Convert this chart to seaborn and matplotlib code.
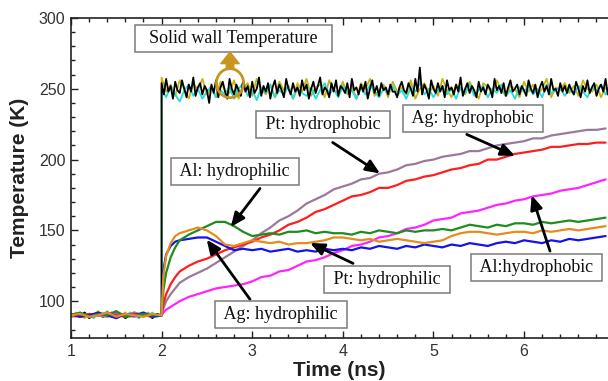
import numpy as np
import pandas as pd
import matplotlib
matplotlib.use("Agg")
import matplotlib.pyplot as plt
from matplotlib.patches import Ellipse
import seaborn as sns

# ---------------- data ----------------
# solid wall temperature traces (pre-heating part, t = 1.0 .. 2.0 step 0.05)
wall_time_pre = [1.00, 1.05, 1.10, 1.15, 1.20, 1.25, 1.30, 1.35, 1.40, 1.45,
                 1.50, 1.55, 1.60, 1.65, 1.70, 1.75, 1.80, 1.85, 1.90, 1.95, 2.00]
# heated part: black sampled every 0.025 ns, cyan / olive every 0.05 ns
black_time_post = [round(2.0 + 0.025 * i, 3) for i in range(200)]
wall_time_post = [round(2.0 + 0.05 * i, 2) for i in range(100)]

black_pre = [90, 91, 89, 92, 88, 90, 91, 89, 90, 92, 89, 91, 88, 90, 92, 89, 91, 90, 88, 91, 90]
cyan_pre = [91, 89, 90, 92, 90, 88, 91, 90, 93, 89, 90, 91, 89, 92, 90, 88, 91, 90, 92, 89, 90]
olive_pre = [89, 92, 90, 88, 91, 90, 93, 89, 90, 91, 88, 90, 92, 89, 91, 90, 89, 92, 90, 91, 90]

black_post = [254, 246, 257, 248, 252, 243, 255, 249, 247, 256, 250, 244, 253, 248, 258, 245, 251, 254, 246, 252,
              249, 240, 253, 247, 256, 244, 251, 255, 248, 243, 257, 250, 246, 253, 249, 245, 256, 248, 252, 244,
              255, 247, 250, 258, 245, 252, 248, 254, 243, 251, 256, 247, 253, 249, 244, 257, 250, 246, 254, 248,
              251, 245, 256, 249, 253, 243, 250, 255, 247, 252, 258, 246, 251, 249, 244, 254, 248, 256, 245, 252,
              250, 247, 254, 244, 257, 249, 251, 246, 253, 248, 255, 243, 250, 256, 247, 252, 245, 254, 249, 251,
              246, 253, 248, 248, 244, 251, 255, 249, 247, 254, 250, 245, 257, 248, 265, 246, 253, 249, 243, 256,
              250, 247, 254, 248, 252, 244, 256, 249, 251, 246, 253, 248, 258, 245, 250, 254, 247, 252, 249, 244,
              255, 248, 251, 246, 253, 250, 244, 257, 249, 252, 247, 254, 245, 251, 256, 248, 250, 253, 246, 252,
              249, 245, 256, 250, 247, 253, 244, 251, 255, 248, 252, 246, 257, 249, 250, 245, 254, 248, 252, 247,
              253, 249, 246, 255, 250, 244, 252, 248, 256, 247, 251, 254, 245, 250, 253, 248, 257, 246, 251, 249]
cyan_post = [250, 244, 252, 246, 241, 249, 253, 245, 250, 243,
             248, 252, 244, 249, 246, 251, 243, 250, 254, 245,
             249, 242, 251, 247, 253, 244, 249, 246, 252, 243,
             250, 247, 245, 251, 243, 249, 254, 246, 250, 244,
             252, 247, 249, 243, 251, 246, 253, 248, 244, 250,
             247, 252, 245, 249, 243, 251, 248, 254, 246, 250,
             244, 249, 252, 246, 250, 243, 251, 247, 253, 245,
             249, 252, 244, 250, 247, 253, 245, 249, 243, 251,
             248, 252, 246, 250, 244, 253, 247, 249, 251, 245,
             250, 246, 252, 248, 244, 251, 249, 253, 246, 250]
olive_post = [258, 248, 253, 245, 256, 250, 243, 254, 249, 257,
              246, 252, 244, 255, 249, 247, 256, 243, 251, 254,
              245, 257, 250, 246, 253, 244, 255, 249, 252, 243,
              254, 248, 257, 245, 251, 253, 244, 256, 249, 247,
              255, 246, 252, 243, 254, 250, 257, 245, 249, 253,
              244, 255, 248, 251, 246, 256, 243, 250, 254, 247,
              252, 245, 257, 249, 244, 253, 250, 246, 255, 248,
              243, 254, 251, 247, 256, 249, 245, 252, 250, 244,
              255, 248, 253, 246, 250, 257, 244, 251, 249, 254,
              247, 252, 245, 256, 250, 248, 253, 244, 251, 249]

# fluid temperature traces
fluid_time = [1.0, 1.1, 1.2, 1.3, 1.4, 1.5, 1.6, 1.7, 1.8, 1.9, 2.0,
              2.02, 2.05, 2.1, 2.15, 2.2, 2.3, 2.4, 2.5, 2.6, 2.7, 2.8, 2.9,
              3.0, 3.1, 3.2, 3.3, 3.4, 3.5, 3.6, 3.7, 3.8, 3.9,
              4.0, 4.1, 4.2, 4.3, 4.4, 4.5, 4.6, 4.7, 4.8, 4.9,
              5.0, 5.1, 5.2, 5.3, 5.4, 5.5, 5.6, 5.7, 5.8, 5.9,
              6.0, 6.1, 6.2, 6.3, 6.4, 6.5, 6.6, 6.7, 6.8, 6.9]

orange_vals = [90, 91, 89, 90, 92, 89, 91, 90, 89, 91, 90,
               118, 132, 141, 146, 148, 150, 152, 150, 146, 140, 139, 141,
               143, 142, 141, 142, 140, 141, 141, 142, 143, 145,
               145, 144, 143, 144, 142, 143, 144, 143, 142, 141,
               142, 143, 146, 148, 149, 149, 148, 147, 148, 149,
               149, 148, 150, 149, 150, 151, 150, 151, 152, 153]
blue_vals = [91, 89, 90, 92, 90, 88, 91, 90, 92, 89, 90,
             122, 133, 139, 142, 143, 144, 145, 145, 142, 139, 136, 137,
             136, 137, 135, 136, 137, 135, 136, 135, 137, 136,
             137, 136, 138, 137, 139, 138, 137, 139, 138, 140,
             139, 138, 140, 139, 141, 140, 139, 141, 142, 141,
             143, 142, 141, 143, 142, 144, 143, 144, 145, 146]
green_vals = [90, 92, 89, 91, 90, 93, 89, 90, 91, 90, 90,
              108, 120, 131, 138, 143, 147, 150, 153, 156, 156, 153, 149,
              146, 147, 148, 147, 149, 149, 150, 148, 149, 148,
              148, 147, 149, 148, 150, 149, 148, 150, 149, 150,
              150, 151, 150, 152, 154, 153, 152, 154, 153, 155,
              155, 154, 156, 155, 156, 157, 156, 157, 158, 159]
mauve_vals = [89, 90, 91, 90, 89, 91, 90, 92, 90, 89, 90,
              95, 100, 105, 109, 113, 117, 120, 123, 127, 131, 135, 139,
              143, 148, 152, 157, 160, 164, 169, 172, 175, 179,
              181, 183, 186, 187, 190, 191, 193, 196, 197, 199,
              200, 202, 203, 204, 206, 206, 208, 210, 211, 212,
              213, 215, 215, 217, 218, 219, 220, 221, 221, 222]
red_vals = [90, 89, 91, 90, 92, 90, 89, 91, 90, 90, 90,
            98, 105, 112, 117, 121, 125, 128, 130, 133, 136, 138, 140,
            142, 145, 147, 150, 154, 156, 159, 163, 165, 168,
            171, 174, 175, 177, 180, 180, 182, 185, 186, 188,
            189, 191, 193, 194, 196, 197, 200, 200, 202, 204,
            205, 206, 207, 209, 209, 210, 211, 211, 212, 212]
magenta_vals = [90, 91, 89, 90, 91, 92, 90, 89, 91, 90, 90,
                92, 94, 96, 98, 100, 103, 105, 107, 109, 110, 111, 112,
                114, 117, 118, 121, 122, 125, 128, 129, 131, 134,
                136, 139, 140, 142, 145, 146, 148, 151, 152, 154,
                157, 158, 159, 162, 163, 164, 166, 168, 169, 171,
                172, 174, 175, 176, 178, 179, 180, 182, 184, 186]

# colours
c_black, c_cyan, c_olive = "#000000", "#22DDDD", "#C8B40A"
c_orange, c_blue, c_green = "#E48C1C", "#1414E6", "#1E8C1E"
c_mauve, c_red, c_magenta = "#9A7A98", "#FF1E1E", "#FF24FF"
c_gold = "#C8961E"

# ---------------- figure ----------------
sns.set_style("ticks")
plt.rcParams["font.family"] = ["Liberation Sans", "DejaVu Sans"]

fig = plt.figure(figsize=(6.08, 3.81), dpi=100)
ax = fig.add_axes([71 / 608, 1 - 338 / 381, 1 - 71 / 608, (338 - 18) / 381])

walls = [(wall_time_pre + wall_time_post, olive_pre + olive_post, c_olive),
         (wall_time_pre + wall_time_post, cyan_pre + cyan_post, c_cyan),
         (wall_time_pre + black_time_post, black_pre + black_post, c_black)]
for tt, vals, col in walls:
    df = pd.DataFrame({"t": tt, "T": vals})
    sns.lineplot(data=df, x="t", y="T", color=col, lw=1.3, sort=False,
                 estimator=None, ax=ax)

fluids = [(mauve_vals, c_mauve), (red_vals, c_red), (magenta_vals, c_magenta),
          (blue_vals, c_blue), (green_vals, c_green), (orange_vals, c_orange)]
for vals, col in fluids:
    df = pd.DataFrame({"t": fluid_time, "T": vals})
    sns.lineplot(data=df, x="t", y="T", color=col, lw=1.6, sort=False,
                 estimator=None, ax=ax)

ax.set_xlim(1, 6.927)
ax.set_ylim(74, 300)
ax.set_xticks([1, 2, 3, 4, 5, 6])
ax.set_yticks([100, 150, 200, 250, 300])
ax.set_xticks(np.arange(1, 7, 0.2), minor=True)
ax.set_yticks(np.arange(80, 301, 10), minor=True)
ax.tick_params(which="both", direction="in", top=True, right=False,
               labelsize=11.5, color="#222222", width=1.0)
ax.tick_params(which="major", length=5, pad=4)
ax.tick_params(which="minor", length=3)
ax.spines["right"].set_visible(False)
for s in ["left", "top", "bottom"]:
    ax.spines[s].set_linewidth(1.2)
    ax.spines[s].set_color("#222222")
for lab in ax.get_xticklabels() + ax.get_yticklabels():
    lab.set_color("#333333")

ax.set_xlabel("Time (ns)", fontsize=15, fontweight="bold", labelpad=2, color="#222222")
ax.set_ylabel("Temperature (K)", fontsize=15, fontweight="bold", labelpad=7, color="#222222")

# ---------------- annotations ----------------
serif = ["Liberation Serif", "DejaVu Serif"]
box = dict(boxstyle="square,pad=0.28", fc="white", ec="#7a7a7a", lw=1.1)
arrow = dict(arrowstyle="-|>,head_length=0.7,head_width=0.3", color="black",
             lw=2.0, mutation_scale=12, shrinkA=0, shrinkB=0)

labels = [
    # text, text position, arrow start, arrow tip
    ("Pt: hydrophobic", (3.781, 224.5), (3.888, 212.1), (4.411, 190.2)),
    ("Ag: hydrophobic", (5.437, 228.8), (5.368, 217.8), (5.901, 202.6)),
    ("Al: hydrophilic", (2.810, 191.4), (3.086, 179.6), (2.763, 152.4)),
    ("Ag: hydrophilic", (3.318, 90.7), (2.976, 101.3), (2.498, 143.5)),
    ("Pt: hydrophilic", (4.488, 115.4), (4.113, 126.7), (3.638, 141.1)),
    ("Al:hydrophobic", (6.138, 123.9), (6.287, 135.4), (6.085, 174.8)),
]
for txt, tpos, a0, a1 in labels:
    ax.annotate("", xy=a1, xytext=a0, arrowprops=arrow, zorder=6)
    ax.text(tpos[0], tpos[1], " " + txt + " ", family=serif, fontsize=13,
            ha="center", va="center", bbox=box, zorder=7, color="#111111")

ax.text(2.79, 285.3, "  Solid wall Temperature  ", family=serif, fontsize=13,
        ha="center", va="center", bbox=box, zorder=7, color="#111111")
ax.add_patch(Ellipse((2.755, 254), 0.30, 20.5, fill=False, ec=c_gold, lw=2.0, zorder=8))
ax.annotate("", xy=(2.755, 276), xytext=(2.755, 264.5),
            arrowprops=dict(arrowstyle="simple,head_width=1.1,head_length=0.7,tail_width=0.45",
                            fc=c_gold, ec=c_gold, mutation_scale=12, shrinkA=0, shrinkB=0),
            zorder=8)

fig.savefig("out.png", dpi=100)
